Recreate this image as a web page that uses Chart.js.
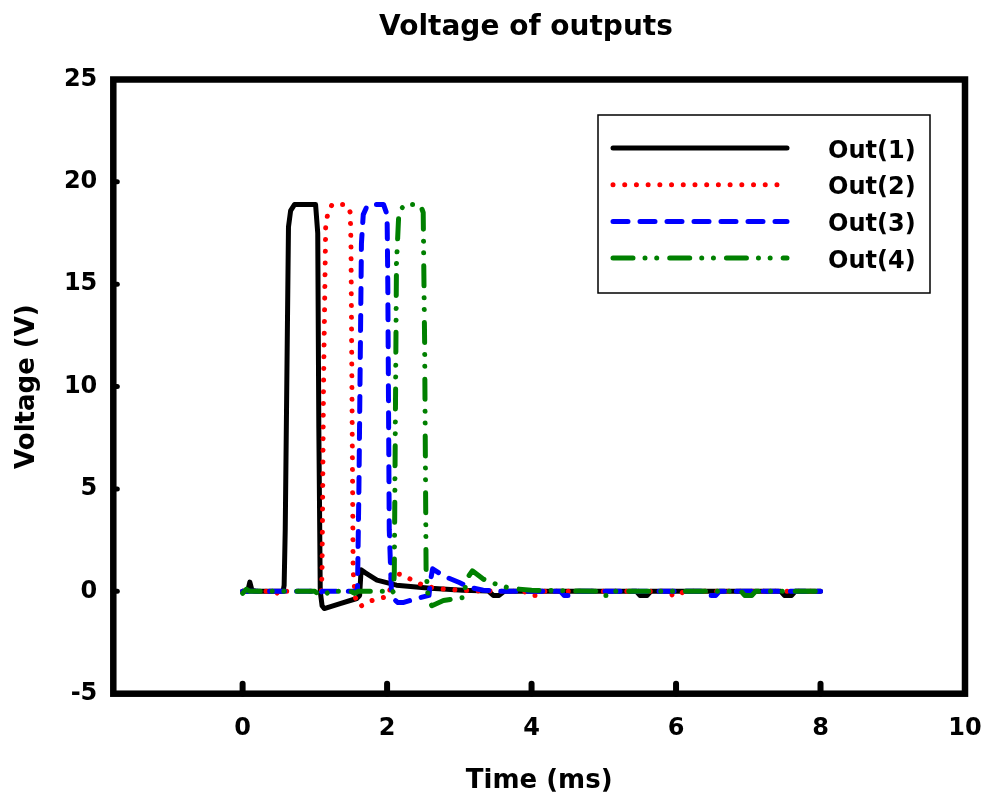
<!DOCTYPE html>
<html><head><meta charset="utf-8">
<script src="https://cdn.jsdelivr.net/npm/chart.js@4.4.0/dist/chart.umd.min.js"></script>
<style>html,body{margin:0;padding:0;background:#fff}#wrap{width:982px;height:803px;position:relative}</style>
</head><body><div id="wrap"><canvas id="c" width="982" height="803"></canvas></div>
<script>
const chartTitle = 'Voltage of outputs';
const xTitle = 'Time (ms)';
const yTitle = 'Voltage (V)';
const xTicks = [0, 2, 4, 6, 8, 10];
const yTicks = [-5, 0, 5, 10, 15, 20, 25];
const seriesNames = ['Out(1)', 'Out(2)', 'Out(3)', 'Out(4)'];

const t1 = [0, 0.07, 0.1, 0.13, 0.2, 0.56, 0.575, 0.59, 0.635, 0.665, 0.72, 1.01, 1.04, 1.055, 1.075, 1.1, 1.13, 1.35, 1.58, 1.62, 1.64, 1.7, 1.86, 2.13, 2.6, 3.05, 3.4, 3.47, 3.55, 3.62, 4.0, 5.0, 5.45, 5.5, 5.6, 5.65, 6.5, 7.45, 7.5, 7.6, 7.65, 8.0];
const v1 = [0, 0, 0.45, 0.05, 0, 0, 0.3, 3, 17.8, 18.6, 18.9, 18.9, 17.5, 8, 0, -0.7, -0.84, -0.6, -0.35, -0.2, 1.05, 0.9, 0.55, 0.3, 0.15, 0.05, 0.02, -0.2, -0.2, 0, 0, 0, 0, -0.2, -0.2, 0, 0, 0, -0.2, -0.2, 0, 0];

const t2 = [0, 0.45, 0.52, 0.6, 1.0, 1.09, 1.1, 1.12, 1.15, 1.18, 1.24, 1.4, 1.46, 1.49, 1.5, 1.53, 1.56, 1.62, 1.79, 1.95, 2.03, 2.06, 2.1, 2.21, 2.37, 2.5, 2.63, 2.8, 3.2, 3.9, 3.95, 4.05, 4.1, 5.9, 5.95, 6.05, 6.1, 7.9, 7.95, 8.0];
const v2 = [0, 0, -0.2, 0, 0, 0, 1, 10, 17.8, 18.5, 18.9, 18.9, 18.8, 18.5, 17, 1, -0.3, -0.75, -0.45, -0.3, -0.2, 0.8, 0.87, 0.82, 0.5, 0.3, 0.18, 0.1, 0.02, 0, -0.2, -0.2, 0, 0, -0.2, -0.2, 0, 0, -0.15, -0.1];

const t3 = [0, 0.5, 1.0, 1.05, 1.1, 1.55, 1.59, 1.61, 1.645, 1.67, 1.72, 1.77, 1.95, 2.0, 2.01, 2.03, 2.06, 2.1, 2.15, 2.22, 2.41, 2.58, 2.6, 2.63, 2.78, 3.0, 3.14, 3.33, 3.6, 4.4, 4.45, 4.55, 4.6, 6.4, 6.45, 6.55, 6.6, 8.0];
const v3 = [0, 0, 0, -0.15, 0, 0, 0, 5, 17, 18.4, 18.8, 18.9, 18.9, 18.4, 15, 3, 0, -0.4, -0.55, -0.55, -0.35, -0.2, 0.5, 1.1, 0.75, 0.43, 0.2, 0.05, 0, 0, -0.2, -0.2, 0, 0, -0.2, -0.2, 0, 0];

const t4 = [0, 0.05, 0.1, 0.3, 0.5, 1.0, 1.05, 1.15, 1.2, 1.5, 1.55, 1.6, 2.0, 2.05, 2.09, 2.1, 2.13, 2.16, 2.2, 2.25, 2.46, 2.5, 2.52, 2.54, 2.57, 2.62, 2.78, 2.96, 3.06, 3.1, 3.18, 3.33, 3.51, 3.7, 4.0, 4.9, 4.95, 5.05, 5.1, 6.9, 6.95, 7.05, 7.1, 8.0];
const v4 = [-0.1, 0.1, 0, 0, 0, 0, -0.15, -0.15, 0, 0, -0.1, 0, 0, -0.1, 0, 1, 16, 18.3, 18.7, 18.9, 18.9, 18.5, 12, 1, -0.4, -0.7, -0.45, -0.35, -0.3, 0.6, 1.0, 0.6, 0.35, 0.15, 0.05, 0, -0.2, -0.2, 0, 0, -0.2, -0.2, 0, 0];

const FONT = "'DejaVu Sans', 'Liberation Sans', Arial, sans-serif";
const zip = (t, v) => t.map((x, i) => ({x: x, y: v[i]}));

const styles = [
  {color: '#000000', dash: [], order: 4},
  {color: '#ff0000', dash: [0.01, 11.7], order: 3},
  {color: '#0000ff', dash: [15, 12], order: 2},
  {color: '#008000', dash: [20, 12, 0.01, 11.7, 0.01, 13], order: 1}
];
const seriesT = [t1, t2, t3, t4];
const seriesV = [v1, v2, v3, v4];

const datasets = seriesNames.map((name, i) => ({
  label: name,
  data: zip(seriesT[i], seriesV[i]),
  borderColor: styles[i].color,
  backgroundColor: styles[i].color,
  borderWidth: 5,
  borderDash: styles[i].dash,
  borderCapStyle: 'round',
  borderJoinStyle: 'round',
  pointRadius: 0,
  tension: 0,
  fill: false,
  order: styles[i].order
}));

const decorPlugin = {
  id: 'decor',
  afterDatasetsDraw(chart) {
    const {ctx, chartArea: a, scales} = chart;
    ctx.save();
    ctx.strokeStyle = '#000';
    ctx.lineCap = 'round';
    ctx.lineWidth = 6;
    ctx.setLineDash([]);
    xTicks.forEach(v => {
      if (v > scales.x.min && v < scales.x.max) {
        const px = scales.x.getPixelForValue(v);
        ctx.beginPath();
        ctx.moveTo(px, a.bottom);
        ctx.lineTo(px, a.bottom - 10);
        ctx.stroke();
      }
    });
    ctx.lineWidth = 5;
    yTicks.forEach(v => {
      if (v > scales.y.min && v < scales.y.max) {
        const py = scales.y.getPixelForValue(v);
        ctx.beginPath();
        ctx.moveTo(a.left, py);
        ctx.lineTo(a.left + 4, py);
        ctx.stroke();
      }
    });
    ctx.lineCap = 'butt';
    ctx.lineJoin = 'miter';
    ctx.lineWidth = 6.5;
    ctx.strokeRect(a.left, a.top, a.right - a.left, a.bottom - a.top);
    const bx = a.right - 367, by = a.top + 35.5, bw = 332, bh = 178;
    ctx.fillStyle = '#fff';
    ctx.fillRect(bx, by, bw, bh);
    ctx.lineWidth = 1.5;
    ctx.strokeStyle = '#000';
    ctx.strokeRect(bx, by, bw, bh);
    chart.data.datasets.forEach((ds, i) => {
      const y = by + 33 + i * 36.7;
      ctx.save();
      ctx.strokeStyle = ds.borderColor;
      ctx.lineWidth = 5;
      ctx.lineCap = 'round';
      ctx.setLineDash(ds.borderDash || []);
      ctx.beginPath();
      ctx.moveTo(bx + 15, y);
      ctx.lineTo(bx + 189, y);
      ctx.stroke();
      ctx.restore();
      ctx.fillStyle = '#000';
      ctx.font = "bold 24px " + FONT;
      ctx.textAlign = 'left';
      ctx.textBaseline = 'middle';
      ctx.fillText(ds.label, bx + 230, y + 3.5);
    });
    ctx.fillStyle = '#000';
    ctx.font = "bold 28px " + FONT;
    ctx.textAlign = 'center';
    ctx.textBaseline = 'middle';
    ctx.fillText(chartTitle, 526, 28);
    ctx.restore();
  }
};

const tickFont = {family: FONT, size: 24, weight: 'bold'};
const titleFont = {family: FONT, size: 26, weight: 'bold'};

new Chart(document.getElementById('c'), {
  type: 'line',
  data: {datasets: datasets},
  options: {
    responsive: false,
    devicePixelRatio: 1,
    animation: false,
    layout: {padding: {top: 79.5, right: 17, left: 0, bottom: 0}},
    plugins: {legend: {display: false}, title: {display: false}, tooltip: {enabled: false}},
    scales: {
      x: {
        type: 'linear', min: -1.79, max: 10,
        afterBuildTicks: s => { s.ticks = xTicks.map(v => ({value: v})); },
        afterFit: s => { s.height = 109.3; s.paddingLeft = 0; s.paddingRight = 0; },
        grid: {display: false, drawTicks: false},
        border: {display: false},
        ticks: {font: tickFont, color: '#000', padding: 21, maxRotation: 0, autoSkip: false},
        title: {display: true, text: xTitle, font: titleFont, color: '#000', padding: {top: 0, bottom: 6}}
      },
      y: {
        type: 'linear', min: -5, max: 25,
        afterBuildTicks: s => { s.ticks = yTicks.map(v => ({value: v})); },
        afterFit: s => { s.width = 113.3; s.paddingTop = 0; s.paddingBottom = 0; },
        grid: {display: false, drawTicks: false},
        border: {display: false},
        ticks: {font: tickFont, color: '#000', padding: 16, autoSkip: false},
        title: {display: true, text: yTitle, font: titleFont, color: '#000', padding: {top: 12, bottom: 0}}
      }
    }
  },
  plugins: [decorPlugin]
});
</script>
</body></html>
